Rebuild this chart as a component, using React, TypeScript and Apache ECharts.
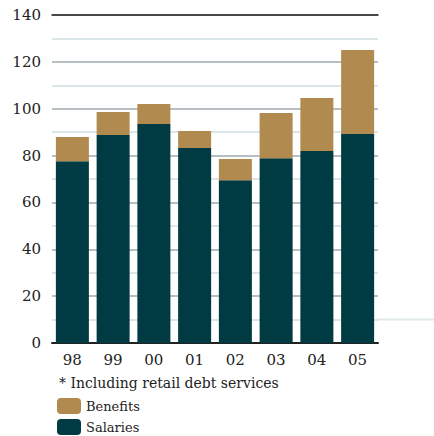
import React, { useEffect, useRef } from "react";
import * as echarts from "echarts";

const categories = ["98", "99", "00", "01", "02", "03", "04", "05"];
const salaries = [77.6, 88.8, 93.5, 83.2, 69.5, 78.9, 81.9, 89.2];
const benefits = [10.3, 9.8, 8.5, 7.3, 9.0, 19.3, 22.7, 35.9];
const yTicks = [0, 20, 40, 60, 80, 100, 120, 140];
const footnote = "* Including retail debt services";

const FONT = "DejaVu Serif";

export default function App() {
  const ref = useRef<HTMLDivElement>(null);
  useEffect(() => {
    if (!ref.current) return;
    const chart = echarts.init(ref.current, undefined, { renderer: "svg" });
    const gridColors: string[] = [];
    for (let v = 0; v <= 140; v += 10) gridColors.push(v % 20 === 0 ? "#b7bfc3" : "#dce5e8");
    const legendBase = {
      orient: "vertical",
      left: 57,
      padding: 0,
      itemWidth: 24,
      itemHeight: 16,
      itemGap: 6,
      textStyle: { fontFamily: FONT, fontSize: 13, color: "#222" },
      selectedMode: false,
    };
    chart.setOption({
      animation: false,
      backgroundColor: "#ffffff",
      textStyle: { fontFamily: FONT },
      grid: { left: 52, right: 56, top: 15, bottom: 93 },
      legend: [
        { ...legendBase, top: 398, data: ["Benefits"] },
        { ...legendBase, top: 419, data: ["Salaries"] },
      ],
      xAxis: [
        {
          type: "category",
          data: categories,
          axisLine: { lineStyle: { color: "#222", width: 2 } },
          axisTick: { show: false },
          axisLabel: { fontFamily: FONT, fontSize: 15, color: "#222", margin: 9 },
        },
        {
          type: "category",
          position: "top",
          data: categories,
          axisLine: { lineStyle: { color: "#222", width: 1.5 } },
          axisTick: { show: false },
          axisLabel: { show: false },
        },
      ],
      yAxis: {
        type: "value",
        min: 0,
        max: 140,
        interval: 10,
        axisLine: { show: false },
        axisTick: { show: false },
        axisLabel: {
          fontFamily: FONT,
          fontSize: 15,
          color: "#222",
          margin: 11,
          formatter: (v: number) => (yTicks.indexOf(v) >= 0 ? String(v) : ""),
        },
        splitLine: { lineStyle: { color: gridColors, width: 2 } },
      },
      graphic: [
        {
          type: "text",
          left: 59,
          top: 376,
          style: { text: footnote, font: `14px "${FONT}"`, fill: "#222" },
        },
        {
          type: "line",
          shape: { x1: 378, y1: 319.5, x2: 434, y2: 319.5 },
          style: { stroke: "#e0e9eb", lineWidth: 2 },
          z: -1,
        },
      ],
      series: [
        {
          name: "Salaries",
          type: "bar",
          stack: "total",
          data: salaries,
          barWidth: "81%",
          itemStyle: { color: "#003a42" },
        },
        {
          name: "Benefits",
          type: "bar",
          stack: "total",
          data: benefits,
          barWidth: "81%",
          itemStyle: { color: "#b08a4e" },
        },
      ],
    });
    return () => chart.dispose();
  }, []);
  return (
    <div
      ref={ref}
      style={{ position: "fixed", left: 0, top: 0, width: 434, height: 436 }}
    />
  );
}
